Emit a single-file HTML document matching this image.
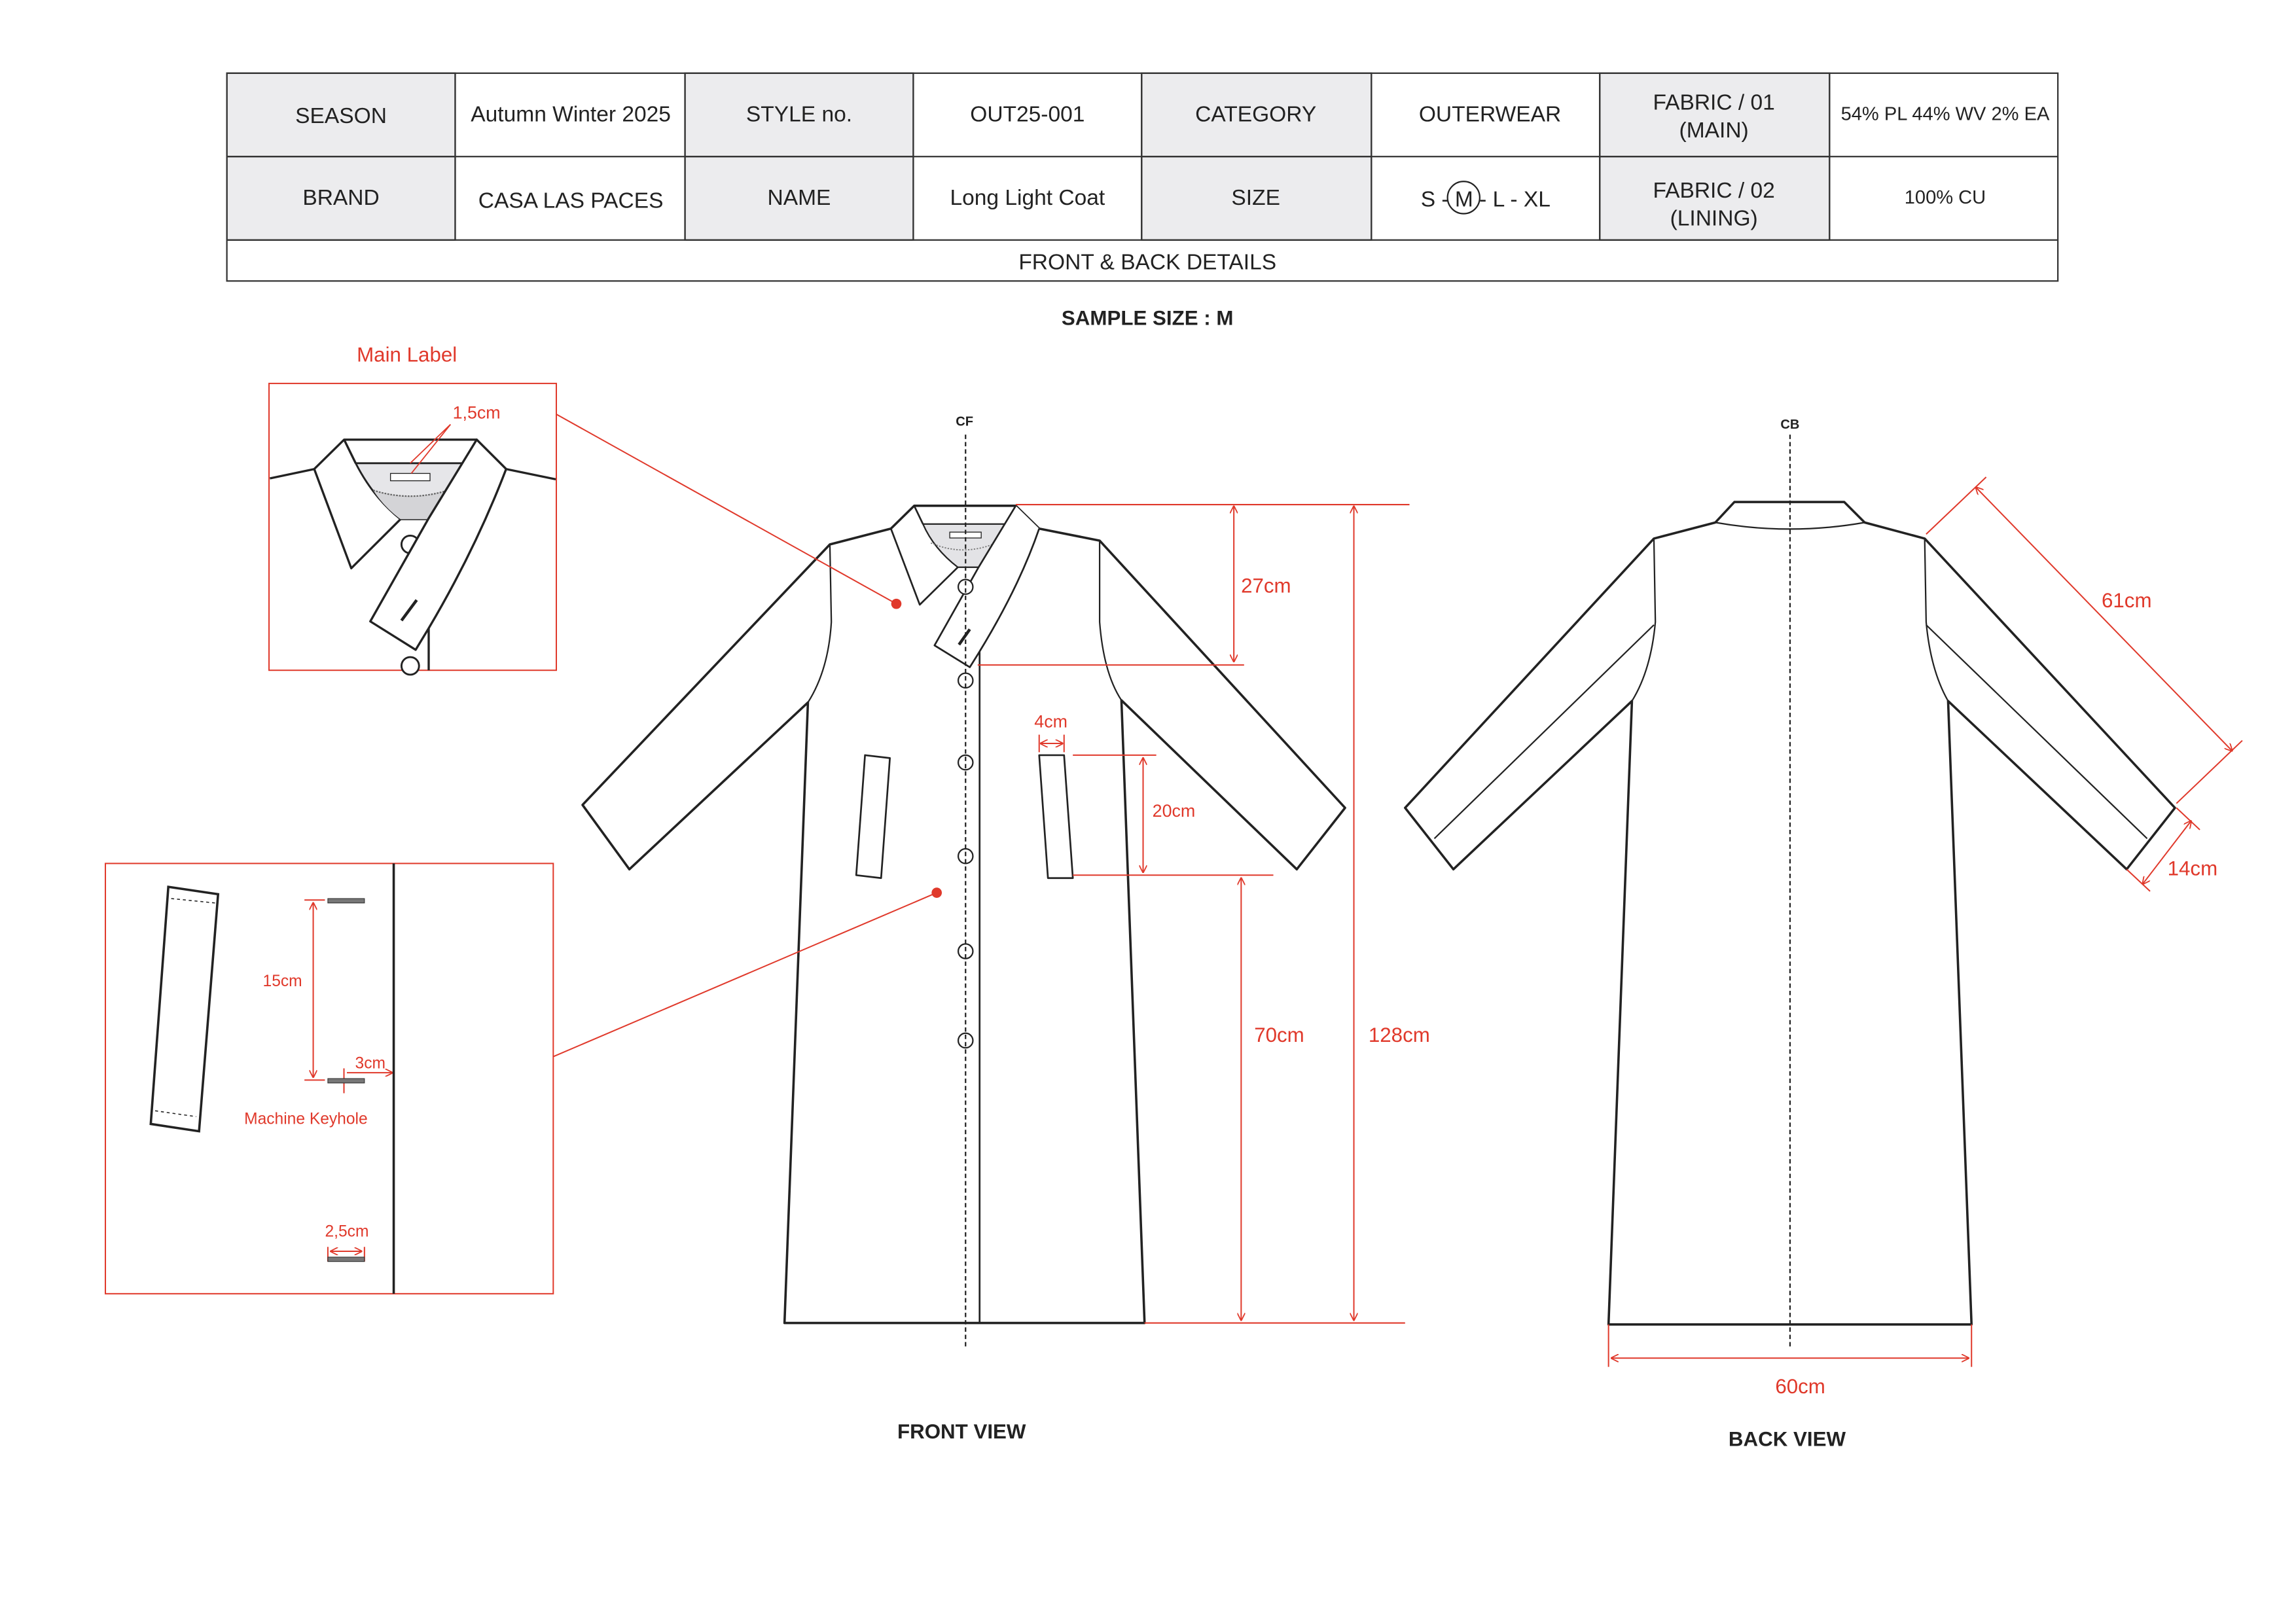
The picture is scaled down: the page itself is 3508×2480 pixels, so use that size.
<!DOCTYPE html>
<html><head><meta charset="utf-8"><style>
html,body{margin:0;padding:0;background:#fff;}
svg{display:block;}
text{font-family:"Liberation Sans",sans-serif;}
</style></head><body>
<svg width="3508" height="2480" viewBox="0 0 1568.7 1109" xmlns="http://www.w3.org/2000/svg">
<defs>
<marker id="ar" viewBox="0 0 10 10" refX="9" refY="5" markerWidth="6" markerHeight="6" orient="auto-start-reverse"><path d="M0,0 L10,5 L0,10" fill="none" stroke="#e0392b" stroke-width="1.5"/></marker>
</defs>
<rect width="1568.7" height="1109" fill="#fff"/>
<!-- table -->
<g stroke="#333" stroke-width="1" font-size="15" fill="#222">
<rect x="155" y="50" width="156" height="57" fill="#ececee"/>
<rect x="468" y="50" width="156" height="57" fill="#ececee"/>
<rect x="780" y="50" width="157" height="57" fill="#ececee"/>
<rect x="1093" y="50" width="157" height="57" fill="#ececee"/>
<rect x="155" y="107" width="156" height="57" fill="#ececee"/>
<rect x="468" y="107" width="156" height="57" fill="#ececee"/>
<rect x="780" y="107" width="157" height="57" fill="#ececee"/>
<rect x="1093" y="107" width="157" height="57" fill="#ececee"/>
<rect x="155" y="50" width="1251" height="142" fill="none"/>
<line x1="155" y1="107" x2="1406" y2="107"/><line x1="155" y1="164" x2="1406" y2="164"/>
<line x1="311" y1="50" x2="311" y2="164"/><line x1="468" y1="50" x2="468" y2="164"/><line x1="624" y1="50" x2="624" y2="164"/><line x1="780" y1="50" x2="780" y2="164"/><line x1="937" y1="50" x2="937" y2="164"/><line x1="1093" y1="50" x2="1093" y2="164"/><line x1="1250" y1="50" x2="1250" y2="164"/>
</g>
<g font-size="15" fill="#222" text-anchor="middle" stroke="none">
<text x="233" y="84">SEASON</text><text x="390" y="83">Autumn Winter 2025</text><text x="546" y="83">STYLE no.</text><text x="702" y="83">OUT25-001</text><text x="858" y="83">CATEGORY</text><text x="1018" y="83">OUTERWEAR</text>
<text x="1171" y="75">FABRIC / 01</text><text x="1171" y="94">(MAIN)</text><text x="1329" y="82" font-size="13">54% PL 44% WV 2% EA</text>
<text x="233" y="140">BRAND</text><text x="390" y="142">CASA LAS PACES</text><text x="546" y="140">NAME</text><text x="702" y="140">Long Light Coat</text><text x="858" y="140">SIZE</text>
<text x="1015" y="141">S - M - L - XL</text>
<text x="1171" y="135">FABRIC / 02</text><text x="1171" y="154">(LINING)</text><text x="1329" y="139" font-size="13">100% CU</text>
<text x="784" y="184">FRONT &amp; BACK DETAILS</text>
<text x="784" y="222" font-weight="bold" font-size="14">SAMPLE SIZE : M</text>
<text x="657" y="983" font-weight="bold" font-size="14">FRONT VIEW</text>
<text x="1221" y="988" font-weight="bold" font-size="14">BACK VIEW</text>
<text x="659" y="291" font-weight="bold" font-size="9">CF</text>
<text x="1223" y="293" font-weight="bold" font-size="9">CB</text>
</g>
<circle cx="1000" cy="135" r="11" fill="none" stroke="#222" stroke-width="1"/>

<!-- FRONT coat -->
<g fill="none" stroke="#222" stroke-width="1.6" stroke-linejoin="round">
<path d="M567,372 L398,550 L430,594 L552,480 L536,904 L782,904 L766.2,478.5 L886,594 L919,552 L751.3,369.4 L710,361.2 L694,345.6 L624.6,345.6 L608.7,361.2 Z" fill="#fff"/>
<path d="M567,372 L568,425 Q566,458 552,480" stroke-width="1"/>
<path d="M751.3,369.4 L751.3,425 Q754,460 766.2,478.5" stroke-width="1"/>
<line x1="669.3" y1="444" x2="669.3" y2="904" stroke-width="1.2"/>
<path d="M630.6,358.1 L687.7,358.1 Q675,378 668.6,387.6 L654.4,387.6 Q638,375 630.6,358.1 Z" fill="#e3e3e6" stroke-width="1"/>
<path d="M636,371 Q659,381 683,370" stroke="#777" stroke-width="0.8" stroke-dasharray="1,1"/>
<path d="M608.7,361.2 L628.4,413.2 L654.4,387.6 M624.6,345.6 L630.6,358.1" stroke-width="1.2"/>
<path d="M694,345.6 L668.6,387.6 L638.5,441 L662.6,455.9 Q695,405 710,361.2" fill="#fff" stroke-width="1.2"/>
<path d="M591,516 L608,518 L602,600 L585,598 Z" stroke-width="1.2"/>
<path d="M710,516 L727,516 L733,600 L716,600 Z" stroke-width="1.2"/>
</g>
<rect x="648.9" y="363.6" width="21.5" height="4" fill="#fff" stroke="#222" stroke-width="0.6"/>
<line x1="655.2" y1="440.5" x2="662.6" y2="430" stroke="#222" stroke-width="2"/>
<g fill="#fff" stroke="#222" stroke-width="1"><circle cx="659.7" cy="401" r="5"/><circle cx="659.7" cy="465" r="5"/><circle cx="659.7" cy="521" r="5"/><circle cx="659.7" cy="585" r="5"/><circle cx="659.7" cy="650" r="5"/><circle cx="659.7" cy="711" r="5"/></g>
<line x1="659.7" y1="297" x2="659.7" y2="920" stroke="#222" stroke-width="1" stroke-dasharray="3,2"/>

<!-- BACK coat -->
<g fill="none" stroke="#222" stroke-width="1.6" stroke-linejoin="round">
<path d="M1130,368 L960,552 L993,594 L1115,479 L1099,905 L1347,905 L1331,479 L1453,594 L1486,552 L1315,368 L1274,357 L1260,343 L1185,343 L1172,357 Z" fill="#fff"/>
<path d="M1172,357 Q1223,366 1274,357" stroke-width="1"/>
<path d="M1130,368 L1131,425 Q1128,458 1115,479" stroke-width="1"/>
<path d="M1315,368 L1316,425 Q1319,458 1331,479" stroke-width="1"/>
<line x1="1130" y1="427" x2="980" y2="573" stroke-width="1"/>
<line x1="1316" y1="427" x2="1467" y2="573" stroke-width="1"/>
</g>
<line x1="1223" y1="297" x2="1223" y2="920" stroke="#222" stroke-width="1" stroke-dasharray="3,2"/>

<!-- red dims -->
<g stroke="#e0392b" stroke-width="0.9" fill="none">
<line x1="694" y1="344.8" x2="963" y2="344.8"/><line x1="668" y1="454.4" x2="850" y2="454.4"/>
<line x1="843" y1="346" x2="843" y2="452" marker-start="url(#ar)" marker-end="url(#ar)"/>
<line x1="925" y1="346" x2="925" y2="902" marker-start="url(#ar)" marker-end="url(#ar)"/>
<line x1="782" y1="904" x2="960" y2="904"/>
<line x1="733" y1="598" x2="870" y2="598"/>
<line x1="848" y1="600" x2="848" y2="902" marker-start="url(#ar)" marker-end="url(#ar)"/>
<line x1="733" y1="516" x2="790" y2="516"/>
<line x1="781" y1="518" x2="781" y2="596" marker-start="url(#ar)" marker-end="url(#ar)"/>
<line x1="711" y1="508" x2="726" y2="508" marker-start="url(#ar)" marker-end="url(#ar)"/>
<line x1="710" y1="502" x2="710" y2="514"/><line x1="727" y1="502" x2="727" y2="514"/>
<line x1="380" y1="283" x2="612.4" y2="412.6"/>
<line x1="378" y1="722" x2="640" y2="610"/>
<rect x="183.8" y="262" width="196.3" height="196"/>
<rect x="72" y="590" width="306" height="294"/>
<!-- back dims -->
<line x1="1316" y1="365" x2="1357" y2="326"/><line x1="1487" y1="549" x2="1532" y2="506"/>
<line x1="1350" y1="333" x2="1525" y2="513" marker-start="url(#ar)" marker-end="url(#ar)"/>
<line x1="1487" y1="552" x2="1503" y2="567"/><line x1="1453" y1="594" x2="1469" y2="609"/>
<line x1="1497" y1="561" x2="1464" y2="604" marker-start="url(#ar)" marker-end="url(#ar)"/>
<line x1="1099" y1="905" x2="1099" y2="934"/><line x1="1347" y1="905" x2="1347" y2="934"/>
<line x1="1101" y1="928" x2="1345" y2="928" marker-start="url(#ar)" marker-end="url(#ar)"/>
<!-- inset 2 dims -->
<line x1="208" y1="615" x2="222" y2="615"/><line x1="208" y1="738" x2="222" y2="738"/>
<line x1="214" y1="617" x2="214" y2="736" marker-start="url(#ar)" marker-end="url(#ar)"/>
<line x1="235" y1="730" x2="235" y2="747"/>
<line x1="237" y1="733" x2="268" y2="733" marker-end="url(#ar)"/>
<line x1="224" y1="852" x2="224" y2="862"/><line x1="249" y1="852" x2="249" y2="862"/>
<line x1="226" y1="855" x2="247" y2="855" marker-start="url(#ar)" marker-end="url(#ar)"/>
</g>
<circle cx="612.4" cy="412.6" r="3.5" fill="#e0392b"/><circle cx="640" cy="610" r="3.5" fill="#e0392b"/>
<g fill="#e0392b" font-size="14" text-anchor="middle">
<text x="278" y="247">Main Label</text>
<text x="865" y="405">27cm</text><text x="956" y="712">128cm</text><text x="874" y="712">70cm</text>
<text x="802" y="558" font-size="12">20cm</text><text x="718" y="497" font-size="12">4cm</text>
<text x="1453" y="415">61cm</text><text x="1498" y="598">14cm</text><text x="1230" y="952">60cm</text>
<text x="325.6" y="286" font-size="12">1,5cm</text>
<text x="193" y="674" font-size="11">15cm</text><text x="253" y="730" font-size="11">3cm</text>
<text x="209" y="768" font-size="11">Machine Keyhole</text><text x="237" y="845" font-size="11">2,5cm</text>
</g>

<!-- inset 1 collar -->
<g fill="none" stroke="#222" stroke-width="1.5" stroke-linejoin="round">
<path d="M184.4,326.9 L214.7,320.5 L235.1,300.4 L325.7,300.4 L345.8,320.5 L379.7,327.5"/>
<path d="M243,316.5 L317.2,316.5 Q300,345 292.5,354.8 L273.6,354.8 Q255,340 243,316.5 Z" fill="#e6e6e9" stroke-width="1.3"/>
<path d="M255,335 Q283,344 312,333 L299,349 Q295,354 292.5,354.8 L273.6,354.8 Q262,346 255,335 Z" fill="#d4d4d7" stroke="none"/>
<path d="M255,335 Q283,344 312,333" stroke="#666" stroke-width="1" stroke-dasharray="1.2,0.8"/>
<path d="M214.7,320.5 L240,388.3 L273.6,354.8 M235.1,300.4 L243,316.5"/>
<line x1="292.9" y1="429" x2="292.9" y2="458"/>
</g>
<rect x="266.8" y="323.5" width="27" height="5" fill="#fff" stroke="#222" stroke-width="0.6"/>
<circle cx="280.3" cy="372" r="6" fill="#fff" stroke="#222" stroke-width="1.3"/>
<circle cx="280.3" cy="455" r="6" fill="#fff" stroke="#222" stroke-width="1.3"/>
<path d="M325.7,300.4 L292.5,354.8 L253,424.6 L284,444 L292.9,429.3 Q325,375 345.8,320.5 Z" fill="#fff" stroke="#222" stroke-width="1.5" stroke-linejoin="round"/>
<line x1="274.3" y1="424" x2="284.7" y2="410" stroke="#222" stroke-width="2"/>
<g stroke="#e0392b" stroke-width="0.8"><line x1="307.8" y1="290" x2="280.3" y2="316.5"/><line x1="307.8" y1="290" x2="281" y2="323.5"/></g>

<!-- inset 2 -->
<line x1="269" y1="590" x2="269" y2="884" stroke="#222" stroke-width="1.6"/>
<path d="M115,606 L149,611 L136,773 L103,768 Z" fill="none" stroke="#222" stroke-width="1.6"/>
<line x1="117" y1="614" x2="147" y2="617" stroke="#222" stroke-width="0.7" stroke-dasharray="2,2"/>
<line x1="106" y1="759" x2="134" y2="763" stroke="#222" stroke-width="0.7" stroke-dasharray="2,2"/>
<g fill="#777" stroke="#333" stroke-width="0.5"><rect x="224" y="614" width="25" height="3"/><rect x="224" y="737" width="25" height="3"/><rect x="224" y="859" width="25" height="3"/></g>
</svg>
</body></html>
